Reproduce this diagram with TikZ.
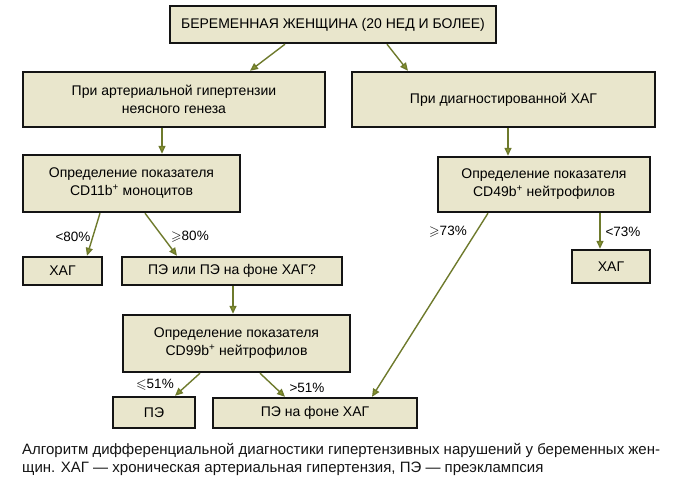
\documentclass[tikz,border=0pt]{standalone}
\usepackage{fontspec}
\usepackage{amssymb}
\setmainfont{Liberation Sans}
\usetikzlibrary{arrows.meta, positioning}
\definecolor{Ink}{HTML}{141414}
\definecolor{Olive}{HTML}{6E7A2C}
\definecolor{OliveTip}{HTML}{8A962E}
\definecolor{Paper}{HTML}{E9E6CC}

\begin{document}
\begin{tikzpicture}[
  x=1pt, y=-1pt,
  font=\fontsize{14}{18}\selectfont,
  box/.style={draw=Ink, line width=2.4pt, fill=Paper, align=center, inner sep=0pt},
  arrow/.style={-{Triangle[length=8pt, width=7pt, fill=OliveTip]}, line width=1.4pt, draw=Olive},
  lbl/.style={font=\fontsize{13.5}{16}\selectfont, inner sep=1pt}
]
\useasboundingbox (0,0) rectangle (680,483);

\node[box, minimum width=326pt, minimum height=37pt] (woman) at (333,24.5) {БЕРЕМЕННАЯ ЖЕНЩИНА (20 НЕД И БОЛЕЕ)};

\node[box, minimum width=302pt, minimum height=55pt] (unclear) at (174,99.5) {При артериальной гипертензии\\неясного генеза};
\node[box, minimum width=303pt, minimum height=55pt] (known) at (503.5,99.5) {При диагностированной ХАГ};

\node[box, minimum width=217pt, minimum height=57pt] (cdmono) at (131.5,183.5) {Определение показателя\\CD11b\textsuperscript{+} моноцитов};
\node[box, minimum width=212pt, minimum height=55pt] (cdneut) at (544,184.5) {Определение показателя\\CD49b\textsuperscript{+} нейтрофилов};

\node[box, minimum width=79pt, minimum height=28pt] (hagleft) at (62.5,271) {ХАГ};
\node[box, minimum width=220pt, minimum height=28pt] (peor) at (232,271) {ПЭ или ПЭ на фоне ХАГ?};
\node[box, minimum width=78pt, minimum height=33pt] (hagright) at (611,266.5) {ХАГ};

\node[box, minimum width=227pt, minimum height=57pt] (cdninety) at (236.5,343.5) {Определение показателя\\CD99b\textsuperscript{+} нейтрофилов};

\node[box, minimum width=82pt, minimum height=31pt] (pe) at (154,412.5) {ПЭ};
\node[box, minimum width=204pt, minimum height=30pt] (pehag) at (315,413) {ПЭ на фоне ХАГ};

% thresholds
\node[lbl] (lessmono) at (73,237) {<80\%};
\node[lbl] (moremono) at (190,237) {$\geqslant$80\%};
\node[lbl] (moreneut) at (448,232) {$\geqslant$73\%};
\node[lbl] (lessneut) at (623,232) {<73\%};
\node[lbl] (lessninety) at (155,385) {$\leqslant$51\%};
\node[lbl] (moreninety) at (307,388) {>51\%};

\draw[arrow] ([xshift=-48pt]woman.south) -- ([xshift=76pt]unclear.north);
\draw[arrow] ([xshift=54pt]woman.south) -- ([xshift=-95.5pt]known.north);
\draw[arrow] ([xshift=-12pt]unclear.south) -- ([xshift=30.5pt]cdmono.north);
\draw[arrow] ([xshift=4.5pt]known.south) -- ([xshift=-36pt]cdneut.north);
\draw[arrow] ([xshift=-31.5pt]cdmono.south) -- ([xshift=24.5pt]hagleft.north);
\draw[arrow] ([xshift=13.5pt]cdmono.south) -- ([xshift=-55pt]peor.north);
\draw[arrow] ([xshift=56pt]cdneut.south) -- ([xshift=-11pt]hagright.north);
\draw[arrow] ([xshift=-56pt]cdneut.south) -- ([xshift=57pt]pehag.north);
\draw[arrow] ([xshift=1pt]peor.south) -- ([xshift=-3.5pt]cdninety.north);
\draw[arrow] ([xshift=-36.5pt]cdninety.south) -- ([xshift=21pt]pe.north);
\draw[arrow] ([xshift=23.5pt]cdninety.south) -- ([xshift=-30pt]pehag.north);

\node[anchor=north west, align=left, inner sep=0pt, text=Ink, font=\fontsize{15}{18.5}\selectfont] (caption) at (22,443)
  {Алгоритм дифференциальной диагностики гипертензивных нарушений у беременных жен-\\щин. ХАГ — хроническая артериальная гипертензия, ПЭ — преэклампсия};
\end{tikzpicture}
\end{document}
